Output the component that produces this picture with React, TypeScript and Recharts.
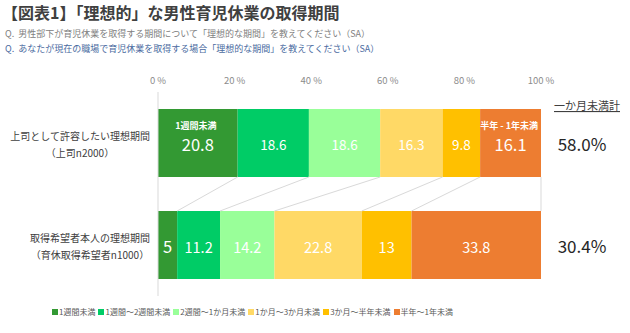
import React from 'react';
import { BarChart, Bar, XAxis, YAxis, ReferenceLine, Legend, LabelList } from 'recharts';

const categories = ['上司として許容したい理想期間', '取得希望者本人の理想期間'];
const sampleNotes = ['（上司n2000）', '（育休取得希望者n1000）'];
const periods = ['1週間未満', '1週間～2週間未満', '2週間～1か月未満', '1か月～3か月未満', '3か月～半年未満', '半年～1年未満'];
const bossValues = [20.8, 18.6, 18.6, 16.3, 9.8, 16.1];
const selfValues = [5, 11.2, 14.2, 22.8, 13, 33.8];
const underMonthTotals = ['58.0%', '30.4%'];
const bossCallouts = ['1週間未満', '', '', '', '', '半年 - 1年未満'];
const xTicks = [0, 20, 40, 60, 80, 100];

const colors = ['#339933', '#00cc66', '#99ff99', '#ffd966', '#ffc000', '#ed7d31'];
const FONT = '"Noto Sans CJK JP", "Noto Sans", sans-serif';
const BAR_GAP = 1 / 6; // share of each band left empty above and below a bar

const rows = [bossValues, selfValues];
const data = categories.map((name, r) => {
  const row: Record<string, any> = { name, total: underMonthTotals[r] };
  rows[r].forEach((v, i) => (row[`p${i}`] = v));
  return row;
});

const cumulative = (arr: number[]) => arr.map((_, i) => arr.slice(0, i + 1).reduce((a, b) => a + b, 0));
const bossCum = cumulative(bossValues);
const selfCum = cumulative(selfValues);
// the "link" axis runs 0..1 over the plot, each row owning half of it
const linkTop = 0.5 - BAR_GAP / 2;
const linkBottom = 0.5 + BAR_GAP / 2;

const CategoryTick = (props: any) => {
  const { x, y, payload } = props;
  const r = categories.indexOf(payload.value);
  const fs = 10;
  const mid = x - (payload.value.length * fs) / 2;
  return (
    <g fontFamily={FONT} fontSize={fs} fill="#404040">
      <text x={x} y={y - 8} textAnchor="end" dominantBaseline="central">{payload.value}</text>
      <text x={mid} y={y + 9} textAnchor="middle" dominantBaseline="central">{sampleNotes[r]}</text>
    </g>
  );
};

const TotalTick = (props: any) => {
  const { x, y, payload } = props;
  return (
    <text x={x + 33} y={y} textAnchor="middle" dominantBaseline="central" fontFamily={FONT} fontSize={17} fill="#262626">
      {payload.value}
    </text>
  );
};

const TotalHeader = (props: any) => {
  const vb = props.viewBox || {};
  return (
    <text x={vb.x + 46} y={vb.y + 13} textAnchor="middle" dominantBaseline="central" fontFamily={FONT} fontSize={11}
      fill="#404040" textDecoration="underline">
      一か月未満計
    </text>
  );
};

const makeSegmentLabel = (seg: number) => (props: any) => {
  const { x, y, width, height, value, index } = props;
  const cx = x + width / 2;
  const cy = y + height / 2;
  const callout = index === 0 ? bossCallouts[seg] : '';
  const big = callout !== '' || (index === 1 && seg === 0);
  const fs = big ? 16.5 : index === 0 ? 13.5 : 14.5;
  return (
    <g fontFamily={FONT} fill="#ffffff">
      {callout !== '' && (
        <text x={seg === 0 ? cx - 2 : x + width - 3} y={cy - 18} textAnchor={seg === 0 ? 'middle' : 'end'}
          dominantBaseline="central" fontSize={9} fontWeight="bold">
          {callout}
        </text>
      )}
      <text x={cx} y={cy + 1} textAnchor="middle" dominantBaseline="central" fontSize={fs}>{value}</text>
    </g>
  );
};

const LegendContent = () => (
  <div style={{ display: 'flex', paddingLeft: 52, paddingTop: 10, fontFamily: FONT, fontSize: 8, color: '#595959', lineHeight: '12px' }}>
    {periods.map((p, i) => (
      <div key={p} style={{ display: 'flex', alignItems: 'center', marginRight: 3 }}>
        <span style={{ width: 6, height: 6, background: colors[i], marginRight: 1 }} />
        {p}
      </div>
    ))}
  </div>
);

export default function App() {
  return (
    <div style={{ position: 'absolute', left: 0, top: 0, width: 630, height: 333, background: '#fff', fontFamily: FONT }}>
      <div style={{ position: 'absolute', left: 2, top: 1, fontSize: 16, fontWeight: 'bold', color: '#404040', lineHeight: '22px' }}>
        【図表1】「理想的」な男性育児休業の取得期間
      </div>
      <div style={{ position: 'absolute', left: 5, top: 27, fontSize: 9, color: '#808080', lineHeight: '14px' }}>
        Q.&nbsp;&nbsp;男性部下が育児休業を取得する期間について「理想的な期間」を教えてください（SA）
      </div>
      <div style={{ position: 'absolute', left: 5, top: 42, fontSize: 9, color: '#4a6aa0', lineHeight: '14px' }}>
        Q.&nbsp;&nbsp;あなたが現在の職場で育児休業を取得する場合「理想的な期間」を教えてください（SA）
      </div>
      <div style={{ position: 'absolute', left: 0, top: 0 }}>
        <BarChart width={630} height={333} data={data} layout="vertical" barCategoryGap={`${BAR_GAP * 100}%`}
          margin={{ top: 72, right: 0, bottom: 17, left: 0 }}>
          <XAxis type="number" orientation="top" domain={[0, 100]} ticks={xTicks} allowDataOverflow
            tickFormatter={(v) => `${v} %`} axisLine={false} tickLine={false} height={20}
            tick={{ fill: '#8c8c8c', fontSize: 9.5, fontFamily: FONT }} />
          <YAxis yAxisId="cat" type="category" dataKey="name" width={158} tickLine={false}
            axisLine={{ stroke: '#d9d9d9' }} tick={<CategoryTick />} />
          <YAxis yAxisId="total" type="category" dataKey="total" orientation="right" width={89} tickLine={false}
            axisLine={false} tick={<TotalTick />} label={<TotalHeader />} />
          <YAxis yAxisId="link" type="number" domain={[0, 1]} allowDataOverflow hide />
          {bossCum.map((c, i) => (
            <ReferenceLine key={`l${i}`} yAxisId="link" ifOverflow="visible" stroke="#d9d9d9" strokeWidth={1}
              segment={[{ x: Math.min(c, 100), y: linkTop }, { x: Math.min(selfCum[i], 100), y: linkBottom }]} />
          ))}
          {periods.map((p, i) => (
            <Bar key={p} yAxisId="cat" dataKey={`p${i}`} name={p} stackId="a" fill={colors[i]} isAnimationActive={false}>
              <LabelList dataKey={`p${i}`} content={makeSegmentLabel(i)} />
            </Bar>
          ))}
          <Legend verticalAlign="bottom" height={20} content={<LegendContent />} />
        </BarChart>
      </div>
    </div>
  );
}
